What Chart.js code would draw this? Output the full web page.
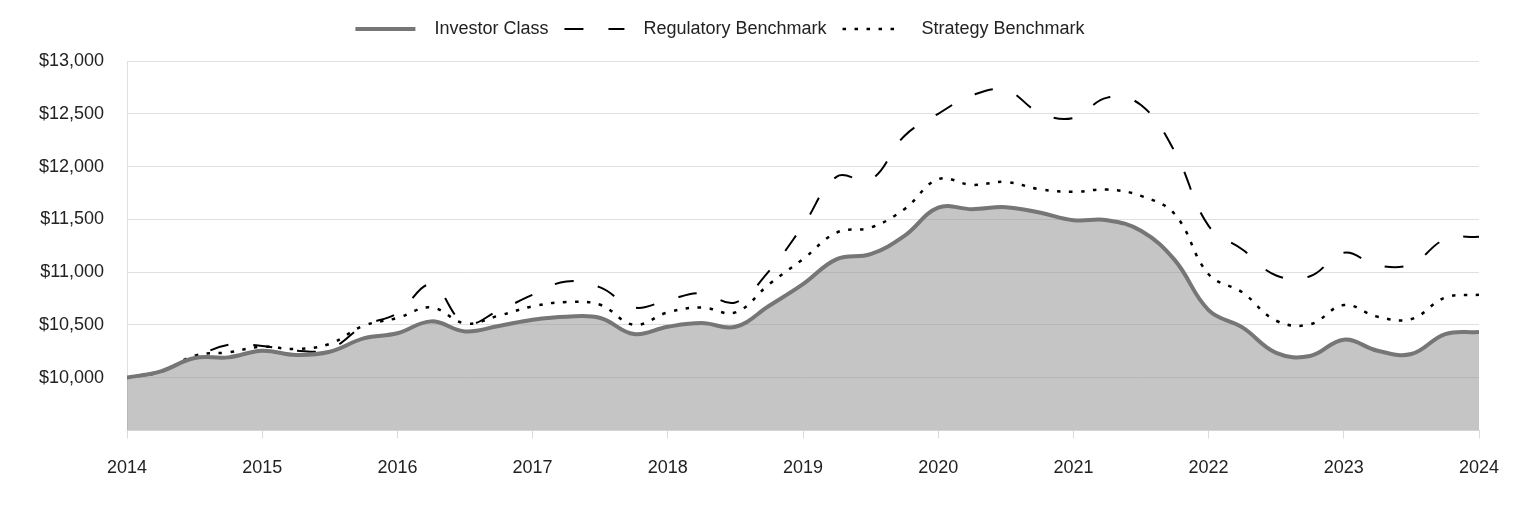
<!DOCTYPE html>
<html>
<head>
<meta charset="utf-8">
<script src="https://cdn.jsdelivr.net/npm/chart.js@4"></script>
<style>
  body { margin: 0; background: #fff; }
  #wrap { width: 1524px; height: 516px; }
</style>
</head>
<body>
<div id="wrap"><canvas id="growthChart"></canvas></div>
<script>
// quarterly values, 2014 to 2024
const investorClass = [10000, 10060, 10186, 10192, 10255, 10215, 10245, 10372, 10420, 10533,
  10438, 10490, 10548, 10577, 10565, 10413, 10482, 10517, 10482, 10681,
  10886, 11123, 11170, 11343, 11611, 11596, 11615, 11564, 11492, 11492,
  11391, 11113, 10640, 10476, 10235, 10205, 10360, 10255, 10224, 10413, 10432];
const regulatoryBenchmark = [10000, 10070, 10192, 10312, 10300, 10255, 10270, 10490, 10610, 10880,
  10515, 10635, 10785, 10911, 10855, 10665, 10735, 10800, 10712, 11012,
  11440, 11905, 11875, 12290, 12500, 12675, 12725, 12510, 12460, 12653,
  12583, 12140, 11438, 11214, 10968, 10960, 11183, 11063, 11075, 11312, 11334];
const strategyBenchmark = [10000, 10055, 10208, 10240, 10293, 10271, 10320, 10492, 10565, 10665,
  10514, 10587, 10675, 10716, 10690, 10501, 10618, 10665, 10618, 10886,
  11123, 11375, 11422, 11596, 11880, 11826, 11854, 11785, 11760, 11782,
  11722, 11548, 10980, 10807, 10539, 10505, 10688, 10577, 10555, 10759, 10785];
const seriesNames = ['Investor Class', 'Regulatory Benchmark', 'Strategy Benchmark'];
const quarters = investorClass.map((_, i) => 2014 + i / 4);

const toPoints = arr => arr.map((v, i) => ({ x: quarters[i], y: v }));
const fontFamily = "'Liberation Sans', Arial, sans-serif";

// legend: extra space under it and a small shift left
const legendTweak = {
  id: 'legendTweak',
  beforeInit(chart) {
    const fit = chart.legend.fit;
    chart.legend.fit = function () {
      fit.call(this);
      this.height += 13;
    };
  },
  afterLayout(chart) {
    chart.legend.left -= 39;
    chart.legend.right -= 39;
  }
};

new Chart(document.getElementById('growthChart'), {
  type: 'line',
  data: {
    datasets: [{
      label: seriesNames[0],
      data: toPoints(investorClass),
      borderColor: '#767676',
      backgroundColor: 'rgba(140,140,140,0.5)',
      borderWidth: 4,
      fill: 'start',
      pointRadius: 0,
      tension: 0.4
    }, {
      label: seriesNames[1],
      data: toPoints(regulatoryBenchmark),
      borderColor: '#000',
      backgroundColor: '#000',
      borderWidth: 2,
      borderDash: [19, 25],
      fill: false,
      pointRadius: 0,
      tension: 0.4
    }, {
      label: seriesNames[2],
      data: toPoints(strategyBenchmark),
      borderColor: '#000',
      backgroundColor: '#000',
      borderWidth: 2.5,
      borderDash: [3.5, 8.5],
      fill: false,
      pointRadius: 0,
      tension: 0.4
    }]
  },
  options: {
    responsive: true,
    maintainAspectRatio: false,
    animation: false,
    layout: { padding: { top: 4, left: 39, right: 45, bottom: 18 } },
    plugins: {
      filler: { drawTime: 'beforeDatasetsDraw' },
      tooltip: { enabled: false },
      legend: {
        position: 'top',
        labels: {
          usePointStyle: true,
          pointStyle: 'line',
          pointStyleWidth: 60,
          padding: 16,
          color: '#222',
          font: { family: fontFamily, size: 18 },
          generateLabels(chart) {
            return chart.data.datasets.map((ds, i) => ({
              text: '  ' + ds.label,
              datasetIndex: i,
              fillStyle: ds.borderColor,
              strokeStyle: ds.borderColor,
              lineWidth: ds.borderWidth,
              lineDash: ds.borderDash || [],
              pointStyle: 'line',
              fontColor: '#222',
              hidden: false
            }));
          }
        }
      }
    },
    scales: {
      x: {
        type: 'linear',
        min: 2014,
        max: 2024,
        offset: false,
        grid: { drawOnChartArea: false, drawTicks: true, tickLength: 8, color: '#d9d9d9' },
        border: { display: true, color: '#d9d9d9' },
        ticks: {
          stepSize: 1,
          padding: 19,
          color: '#222',
          font: { family: fontFamily, size: 18 },
          maxRotation: 0,
          callback: v => String(v)
        }
      },
      y: {
        min: 9500,
        max: 13000,
        grid: { color: '#e0e0e0', drawTicks: false },
        border: { display: true, color: '#e0e0e0' },
        afterFit(scale) { scale.width = 88; },
        ticks: {
          stepSize: 500,
          padding: 23,
          color: '#222',
          font: { family: fontFamily, size: 18 },
          callback: v => v === 9500 ? '' : '$' + v.toLocaleString('en-US')
        }
      }
    }
  },
  plugins: [legendTweak]
});
</script>
</body>
</html>
